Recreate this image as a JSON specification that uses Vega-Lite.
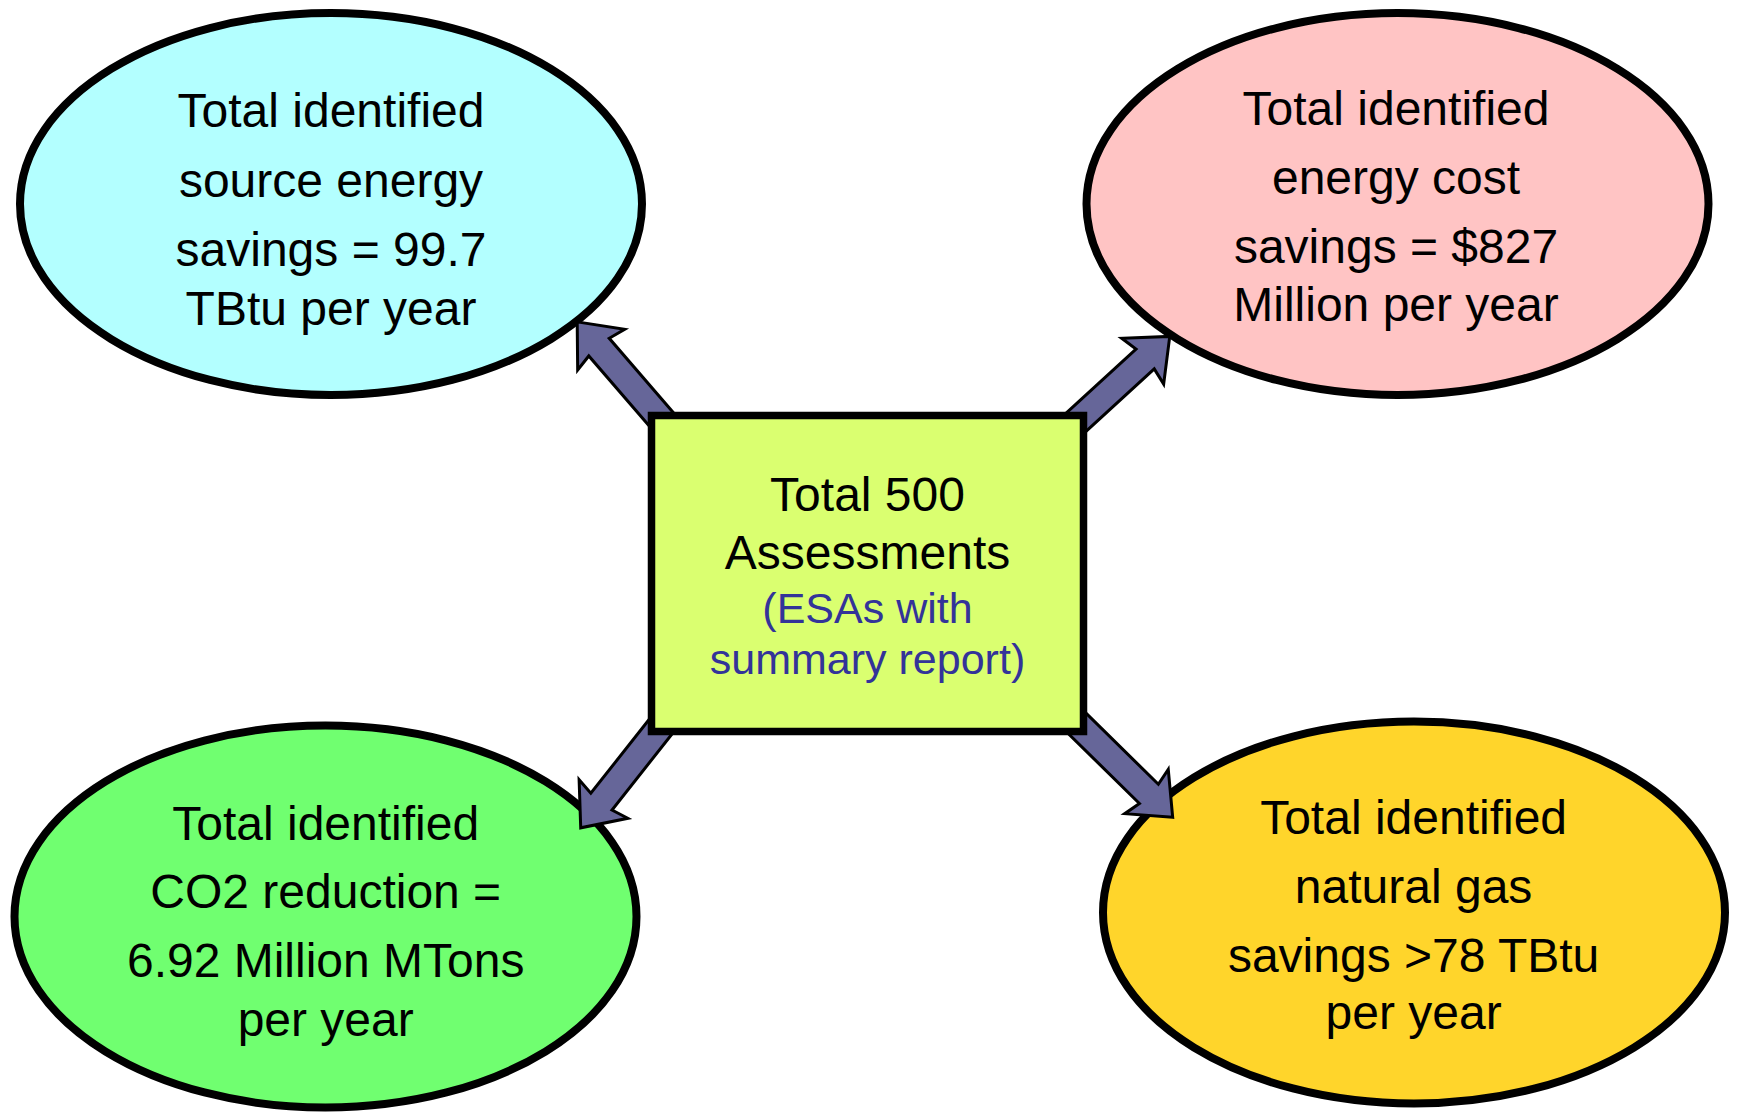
{
  "$schema": "https://vega.github.io/schema/vega-lite/v6.json",
  "width": 1737,
  "height": 1114,
  "padding": 0,
  "autosize": {"type": "none"},
  "background": "white",
  "config": {"view": {"stroke": null}},
  "datasets": {
    "nodes": [
      {"name": "source", "x": 331, "y": 204},
      {"name": "cost", "x": 1397.5, "y": 204},
      {"name": "co2", "x": 325.5, "y": 916.5},
      {"name": "gas", "x": 1414, "y": 912.5}
    ],
    "arrows": [
      {"to": "source", "x": 636, "y": 390, "angle": -40.8},
      {"to": "cost", "x": 1103.4, "y": 397.2, "angle": 47.5},
      {"to": "co2", "x": 636.5, "y": 757.2, "angle": -141.7},
      {"to": "gas", "x": 1108.5, "y": 754.2, "angle": 134.5}
    ],
    "box": [
      {"name": "assessments", "x": 651.5, "x2": 1083.5, "y": 415.5, "y2": 731.5}
    ],
    "labels": [
      {"text": "Total identified", "kind": "main", "x": 331, "y": 113},
      {"text": "source energy", "kind": "main", "x": 331, "y": 183},
      {"text": "savings = 99.7", "kind": "main", "x": 331, "y": 252},
      {"text": "TBtu per year", "kind": "main", "x": 331, "y": 310.5},
      {"text": "Total identified", "kind": "main", "x": 1396, "y": 111},
      {"text": "energy cost", "kind": "main", "x": 1396, "y": 179.5},
      {"text": "savings = $827", "kind": "main", "x": 1396, "y": 248.5},
      {"text": "Million per year", "kind": "main", "x": 1396, "y": 307},
      {"text": "Total identified", "kind": "main", "x": 325.7, "y": 825.5},
      {"text": "CO2 reduction =", "kind": "main", "x": 325.7, "y": 894},
      {"text": "6.92 Million MTons", "kind": "main", "x": 325.7, "y": 963},
      {"text": "per year", "kind": "main", "x": 325.7, "y": 1021.5},
      {"text": "Total identified", "kind": "main", "x": 1413.6, "y": 820},
      {"text": "natural gas", "kind": "main", "x": 1413.6, "y": 888.5},
      {"text": "savings >78 TBtu", "kind": "main", "x": 1413.6, "y": 957.5},
      {"text": "per year", "kind": "main", "x": 1413.6, "y": 1015},
      {"text": "Total 500", "kind": "main", "x": 867.5, "y": 497},
      {"text": "Assessments", "kind": "main", "x": 867.5, "y": 555},
      {"text": "(ESAs with", "kind": "note", "x": 867.5, "y": 609.5},
      {"text": "summary report)", "kind": "note", "x": 867.5, "y": 660.5}
    ]
  },
  "encoding": {
    "x": {"field": "x", "type": "quantitative", "scale": {"domain": [0, 1737], "nice": false, "zero": false}, "axis": null},
    "y": {"field": "y", "type": "quantitative", "scale": {"domain": [0, 1114], "nice": false, "zero": false, "reverse": true}, "axis": null}
  },
  "layer": [
    {
      "data": {"name": "nodes"},
      "mark": {
        "type": "point",
        "filled": true,
        "opacity": 1,
        "fillOpacity": 1,
        "stroke": "black",
        "strokeWidth": 8,
        "strokeOpacity": 1,
        "size": 386884,
        "shape": "M -1 0 C -1 -0.3392 -0.5523 -0.6141 0 -0.6141 C 0.5523 -0.6141 1 -0.3392 1 0 C 1 0.3392 0.5523 0.6141 0 0.6141 C -0.5523 0.6141 -1 0.3392 -1 0 Z"
      },
      "encoding": {
        "fill": {"field": "name", "type": "nominal", "scale": {"domain": ["source", "cost", "co2", "gas"], "range": ["#B3FFFF", "#FFC4C4", "#70FF70", "#FFD52B"]}, "legend": null}
      }
    },
    {
      "data": {"name": "arrows"},
      "mark": {
        "type": "point",
        "filled": true,
        "opacity": 1,
        "fill": "#666699",
        "stroke": "black",
        "strokeWidth": 3,
        "strokeOpacity": 1,
        "strokeJoin": "miter",
        "size": 32400,
        "shape": "M 0 -1 L 0.345 -0.592 L 0.15 -0.629 L 0.15 1 L -0.15 1 L -0.15 -0.629 L -0.345 -0.592 Z"
      },
      "encoding": {
        "angle": {"field": "angle", "type": "quantitative", "scale": null}
      }
    },
    {
      "data": {"name": "box"},
      "mark": {"type": "rect", "fill": "#DAFF70", "stroke": "black", "strokeWidth": 7.5},
      "encoding": {
        "x2": {"field": "x2"},
        "y2": {"field": "y2"}
      }
    },
    {
      "data": {"name": "labels"},
      "mark": {"type": "text", "font": "Liberation Sans", "align": "center", "baseline": "middle"},
      "encoding": {
        "text": {"field": "text", "type": "nominal"},
        "color": {"field": "kind", "type": "nominal", "scale": {"domain": ["main", "note"], "range": ["black", "#333399"]}, "legend": null},
        "size": {"field": "kind", "type": "nominal", "scale": {"domain": ["main", "note"], "range": [48, 43]}, "legend": null}
      }
    }
  ]
}
